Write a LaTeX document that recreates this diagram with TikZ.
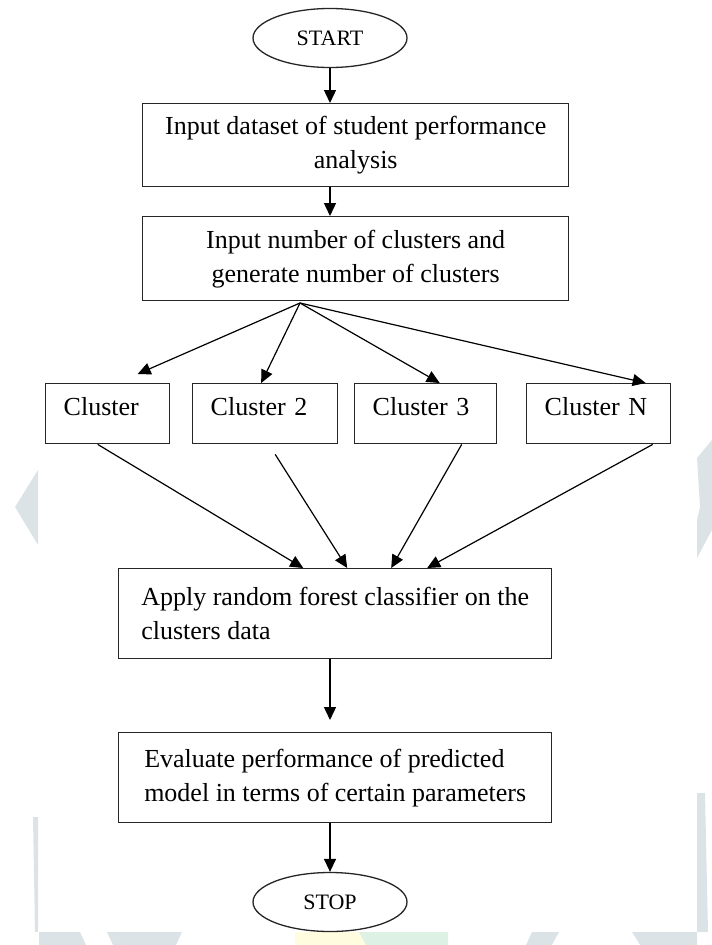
\documentclass[tikz,border=0pt]{standalone}
\usepackage{fontspec}
\setmainfont{Liberation Serif}
\usetikzlibrary{calc,shapes,arrows.meta}

\definecolor{wmgray}{HTML}{DCE3E6}
\definecolor{wmyellow}{HTML}{FFFCE0}
\definecolor{wmgreen}{HTML}{DDF1E5}

\tikzset{
  txt/.style={font=\fontsize{26}{34}\selectfont},
  stepbox/.style={txt, draw=black!85, line width=1.4pt, rectangle,
    anchor=north west, inner sep=0pt},
  clusterbox/.style={stepbox, inner xsep=18pt, inner ysep=0pt,
    text height=32pt, text depth=28pt, align=left},
  term/.style={draw=black!85, line width=1.3pt, ellipse, inner sep=0pt,
    minimum width=154pt, minimum height=59pt,
    font=\fontsize{22}{26}\selectfont},
  arr/.style={-{Triangle[length=13pt,width=12pt]}, line width=1.4pt},
  fanarr/.style={arr, line width=1.2pt}
}

\begin{document}
\begin{tikzpicture}[x=1pt,y=-1pt]
  \useasboundingbox (0,0) rectangle (712,945);

  % faint watermark round the edges
  \fill[wmgray] (38,470) -- (15,507) -- (38,545) -- cycle;
  \fill[wmgray] (33,817) -- (38,817) -- (38,932) -- (35,932) -- cycle;
  \fill[wmgray] (697,458) -- (712,440) -- (712,530) -- (697,558)
    -- (697,520) -- (700,507) -- cycle;
  \fill[wmgray] (697,793) -- (705,793) -- (708,932) -- (697,932) -- cycle;
  \fill[wmgray] (39,932) -- (80,932) -- (86,945) -- (39,945) -- cycle;
  \fill[wmgray] (107,932) -- (182,932) -- (176,945) -- (113,945) -- cycle;
  \fill[wmyellow] (295,932) -- (359,932) -- (366,945) -- (295,945) -- cycle;
  \fill[wmgreen] (359,932) -- (448,932) -- (448,945) -- (366,945) -- cycle;
  \fill[wmgray] (532,932) -- (559,932) -- (552,945) -- (526,945) -- cycle;
  \fill[wmgray] (632,932) -- (697,932) -- (697,945) -- (640,945) -- cycle;

  \node[term] (start) at (330,38) {START};

  \node[stepbox, minimum width=426pt, minimum height=83pt, align=center]
    (b1) at (142,103) {Input dataset of student performance\\analysis};
  \node[stepbox, minimum width=426pt, minimum height=84pt, align=center]
    (b2) at (142,216) {Input number of clusters and\\generate number of clusters};

  \node[clusterbox, text width=88pt] (c1) at (45,383) {Cluster};
  \node[clusterbox, text width=109pt] (c2) at (192,383) {Cluster 2};
  \node[clusterbox, text width=106pt] (c3) at (354,383) {Cluster 3};
  \node[clusterbox, text width=108pt] (cN) at (526,383) {Cluster N};

  \node[stepbox, minimum width=433pt, minimum height=90pt, align=left]
    (apply) at (118,568) {Apply random forest classifier on the\\clusters data};
  \node[stepbox, minimum width=433pt, minimum height=90pt, align=left]
    (eval) at (118,732)
    {Evaluate performance of predicted\\model in terms of certain parameters};

  \node[term] (stop) at (330,902) {STOP};

  % main column
  \draw[arr] (start) -- (start |- b1.north);
  \draw[arr] (b1.south -| start) -- (b2.north -| start);
  \draw[arr, shorten >=12pt] (apply.south -| start) -- (eval.north -| start);
  \draw[arr] (eval.south -| start) -- (stop);

  % fan out to the clusters
  \coordinate (fan) at (300,303);
  \draw[fanarr] (fan) -- ([shift={(30pt,9pt)}]c1.north);
  \draw[fanarr] (fan) -- ([xshift=-4pt]c2.north);
  \draw[fanarr] (fan) -- ([xshift=14pt]c3.north);
  \draw[fanarr] (fan) -- ([xshift=47pt]cN.north);

  % clusters into the classifier
  \draw[fanarr] ([xshift=-10pt]c1.south) -- ([xshift=-32pt]apply.north);
  \draw[fanarr] ([shift={(10pt,-10pt)}]c2.south) -- ([xshift=12pt]apply.north);
  \draw[fanarr] ([xshift=36pt]c3.south) -- ([xshift=56pt]apply.north);
  \draw[fanarr] ([xshift=54pt]cN.south) -- ([xshift=92pt]apply.north);
\end{tikzpicture}
\end{document}
